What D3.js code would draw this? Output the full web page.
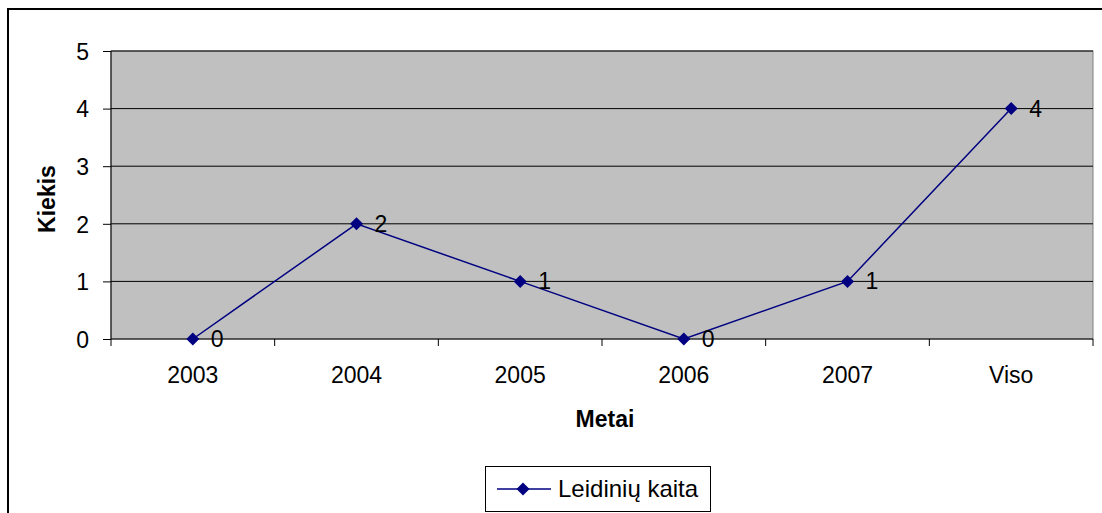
<!DOCTYPE html>
<html><head><meta charset="utf-8">
<script src="https://cdn.jsdelivr.net/npm/d3@7"></script>
<style>body{margin:0;background:#fff}svg{display:block}text{font-family:"Liberation Sans",Arial,sans-serif}</style>
</head><body>
<svg id="c" width="1102" height="513"></svg>
<script>
const categories = ["2003","2004","2005","2006","2007","Viso"];
const values = [0,2,1,0,1,4];
const yTicks = [0,1,2,3,4,5];
const seriesName = "Leidinių kaita";
const xTitle = "Metai", yTitle = "Kiekis";

const FS = 23, FT = 23, FL = 24;
const svg = d3.select("#c");
const L=111, T=51, R=1093, B=339;
svg.append("rect").attr("x",8).attr("y",9).attr("width",1110).attr("height",520)
  .attr("fill","#fff").attr("stroke","#000").attr("stroke-width",2);

const x = d3.scaleBand().domain(categories).range([L,R]);
const y = d3.scaleLinear().domain([0,5]).range([B,T]);

svg.append("rect").attr("x",L).attr("y",T).attr("width",R-L).attr("height",B-T)
  .attr("fill","#C0C0C0").attr("stroke","#808080").attr("stroke-width",1);

svg.append("g").selectAll("line").data(yTicks.filter(d=>d>0)).join("line")
  .attr("x1",L).attr("x2",R).attr("y1",d=>y(d)).attr("y2",d=>y(d))
  .attr("stroke","#000").attr("stroke-width",1);

const ya = svg.append("g").attr("transform",`translate(${L},0)`)
  .call(d3.axisLeft(y).tickValues(yTicks).tickSize(8).tickPadding(14).tickFormat(d3.format("d")));
ya.select(".domain").attr("stroke","#000").attr("d",`M0,${T}V${B}`);
ya.selectAll("text").attr("font-size",FS).attr("fill","#000").attr("dy","0.36em")
  .attr("font-family","Liberation Sans, Arial");

const xa = svg.append("g").attr("transform",`translate(0,${B})`);
xa.append("line").attr("x1",L).attr("x2",R).attr("stroke","#000");
const bounds = categories.map(c=>x(c)).concat([R]);
xa.selectAll("line.t").data(bounds).join("line").attr("class","t")
  .attr("x1",d=>d).attr("x2",d=>d).attr("y1",0).attr("y2",7).attr("stroke","#000");
xa.selectAll("text").data(categories).join("text")
  .attr("x",d=>x(d)+x.bandwidth()/2).attr("y",44).attr("text-anchor","middle")
  .attr("font-size",FS).text(d=>d);

svg.append("text").attr("x",605).attr("y",427).attr("text-anchor","middle")
  .attr("font-size",FT).attr("font-weight","bold").text(xTitle);
svg.append("text").attr("transform",`translate(55,199) rotate(-90)`).attr("text-anchor","middle")
  .attr("font-size",FT).attr("font-weight","bold").text(yTitle);

const cx = d=>x(d)+x.bandwidth()/2;
const dpath = "M0,-6.5L6.5,0L0,6.5L-6.5,0Z";
svg.append("path").datum(categories.map((c,i)=>[cx(c),y(values[i])]))
  .attr("d",d3.line()).attr("fill","none").attr("stroke","#000080").attr("stroke-width",1.5);
svg.append("g").selectAll("path").data(categories).join("path")
  .attr("transform",(c,i)=>`translate(${cx(c)},${y(values[i])})`)
  .attr("d",dpath).attr("fill","#000080");
svg.append("g").selectAll("text").data(categories).join("text")
  .attr("x",c=>cx(c)+18).attr("y",(c,i)=>y(values[i])+8)
  .attr("font-size",FS).text((c,i)=>values[i]);

const lg = svg.append("g");
lg.append("rect").attr("x",485.5).attr("y",466.5).attr("width",225).attr("height",45)
  .attr("fill","#fff").attr("stroke","#000");
lg.append("line").attr("x1",497).attr("x2",551).attr("y1",489).attr("y2",489)
  .attr("stroke","#000080").attr("stroke-width",1.5);
lg.append("path").attr("transform","translate(523,489)").attr("d",dpath).attr("fill","#000080");
lg.append("text").attr("x",558).attr("y",497).attr("font-size",FL).text(seriesName);
</script>
</body></html>
